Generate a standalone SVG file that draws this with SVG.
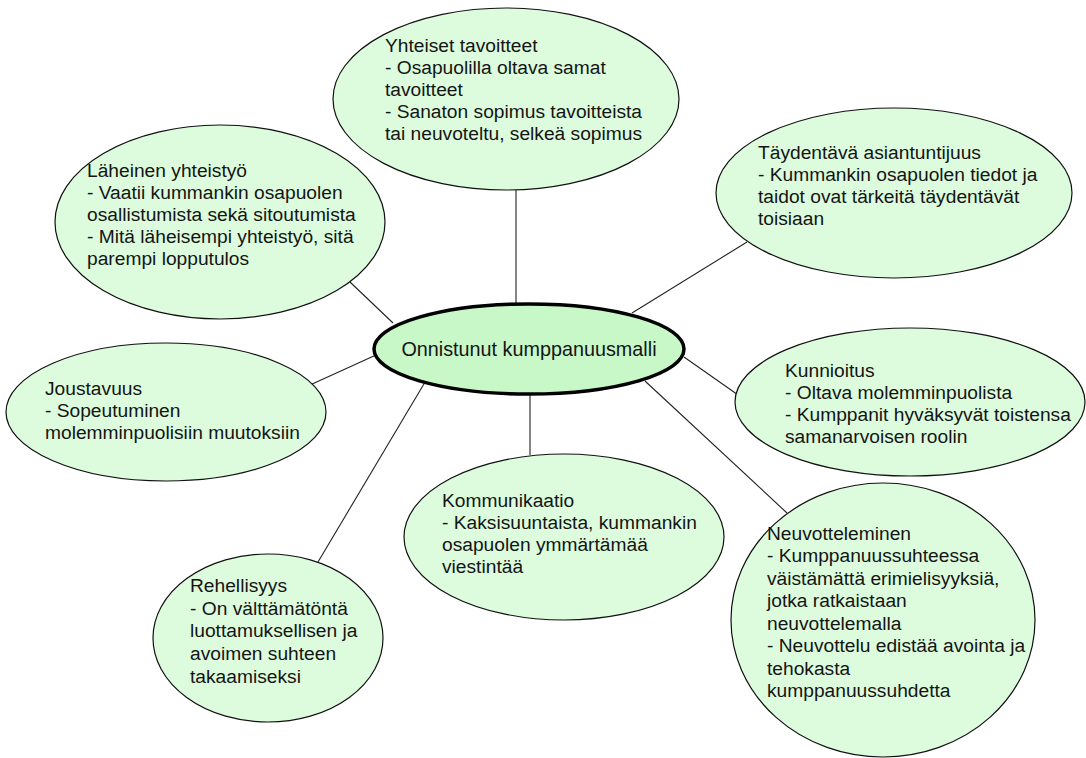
<svg xmlns="http://www.w3.org/2000/svg" width="1086" height="758" viewBox="0 0 1086 758">
<style>
.node{fill:#ddfcdd;stroke:#111;stroke-width:1.2}
.center{fill:#c8f8c8;stroke:#000;stroke-width:3.5}
.t{font-family:"Liberation Sans",Arial,sans-serif;font-size:19.2px;fill:#141414}
.ct{font-family:"Liberation Sans",Arial,sans-serif;font-size:19.8px;fill:#141414}
.conn line{stroke:#222;stroke-width:1.1}
</style>
<rect width="1086" height="758" fill="#ffffff"/>
<g id="connectors" class="conn">
<line x1="516" y1="190" x2="516" y2="304"/>
<line x1="350" y1="282" x2="393" y2="323"/>
<line x1="747" y1="242" x2="632" y2="313"/>
<line x1="310" y1="385" x2="376" y2="355"/>
<line x1="684" y1="357" x2="741" y2="397"/>
<line x1="530" y1="394" x2="530" y2="455"/>
<line x1="645" y1="381" x2="787" y2="513"/>
<line x1="318" y1="562" x2="437" y2="362"/>
</g>
<g id="yhteiset">
<ellipse class="node" cx="506" cy="99" rx="173" ry="91"/>
<text class="t" x="385" y="52">Yhteiset tavoitteet</text>
<text class="t" x="385" y="74">- Osapuolilla oltava samat</text>
<text class="t" x="385" y="96">tavoitteet</text>
<text class="t" x="385" y="118">- Sanaton sopimus tavoitteista</text>
<text class="t" x="385" y="140">tai neuvoteltu, selkeä sopimus</text>
</g>
<g id="laheinen">
<ellipse class="node" cx="220" cy="222" rx="165" ry="97"/>
<text class="t" x="87" y="177">Läheinen yhteistyö</text>
<text class="t" x="87" y="199">- Vaatii kummankin osapuolen</text>
<text class="t" x="87" y="221">osallistumista sekä sitoutumista</text>
<text class="t" x="87" y="243">- Mitä läheisempi yhteistyö, sitä</text>
<text class="t" x="87" y="265">parempi lopputulos</text>
</g>
<g id="taydentava">
<ellipse class="node" cx="894" cy="193" rx="178" ry="85"/>
<text class="t" x="758" y="159">Täydentävä asiantuntijuus</text>
<text class="t" x="758" y="181">- Kummankin osapuolen tiedot ja</text>
<text class="t" x="758" y="203">taidot ovat tärkeitä täydentävät</text>
<text class="t" x="758" y="225">toisiaan</text>
</g>
<g id="joustavuus">
<ellipse class="node" cx="166" cy="412" rx="160" ry="69"/>
<text class="t" x="45" y="395">Joustavuus</text>
<text class="t" x="45" y="417">- Sopeutuminen</text>
<text class="t" x="45" y="439">molemminpuolisiin muutoksiin</text>
</g>
<g id="kunnioitus">
<ellipse class="node" cx="910" cy="402" rx="175" ry="74"/>
<text class="t" x="785" y="377">Kunnioitus</text>
<text class="t" x="785" y="399">- Oltava molemminpuolista</text>
<text class="t" x="785" y="421">- Kumppanit hyväksyvät toistensa</text>
<text class="t" x="785" y="443">samanarvoisen roolin</text>
</g>
<g id="kommunikaatio">
<ellipse class="node" cx="564" cy="537" rx="160" ry="83"/>
<text class="t" x="442" y="507">Kommunikaatio</text>
<text class="t" x="442" y="529">- Kaksisuuntaista, kummankin</text>
<text class="t" x="442" y="551">osapuolen ymmärtämää</text>
<text class="t" x="442" y="573">viestintää</text>
</g>
<g id="neuvotteleminen">
<ellipse class="node" cx="883" cy="620" rx="152" ry="137"/>
<text class="t" x="767" y="540">Neuvotteleminen</text>
<text class="t" x="767" y="562">- Kumppanuussuhteessa</text>
<text class="t" x="767" y="585">väistämättä erimielisyyksiä,</text>
<text class="t" x="767" y="607">jotka ratkaistaan</text>
<text class="t" x="767" y="630">neuvottelemalla</text>
<text class="t" x="767" y="652">- Neuvottelu edistää avointa ja</text>
<text class="t" x="767" y="675">tehokasta</text>
<text class="t" x="767" y="697">kumppanuussuhdetta</text>
</g>
<g id="rehellisyys">
<ellipse class="node" cx="268" cy="638" rx="115" ry="84"/>
<text class="t" x="190" y="592">Rehellisyys</text>
<text class="t" x="190" y="615">- On välttämätöntä</text>
<text class="t" x="190" y="637">luottamuksellisen ja</text>
<text class="t" x="190" y="660">avoimen suhteen</text>
<text class="t" x="190" y="683">takaamiseksi</text>
</g>
<g id="center">
<ellipse class="center" cx="529" cy="349" rx="155" ry="45"/>
<text class="ct" x="529" y="356" text-anchor="middle">Onnistunut kumppanuusmalli</text>
</g>
</svg>
